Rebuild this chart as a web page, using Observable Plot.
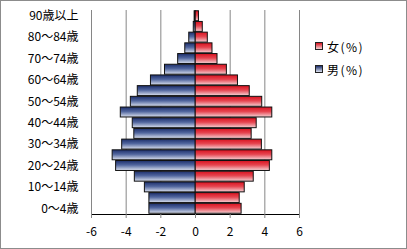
<!DOCTYPE html>
<html><head><meta charset="utf-8">
<script src="https://cdn.jsdelivr.net/npm/d3@7"></script>
<script src="https://cdn.jsdelivr.net/npm/@observablehq/plot@0.6"></script>
<style>
body{margin:0;background:#fff;}
#wrap{position:relative;width:407px;height:249px;font-family:"Noto Sans CJK JP",sans-serif;overflow:hidden;}
#wrap svg{display:block;}
#border{position:absolute;left:0;top:0;width:405px;height:247px;border:1px solid #8c8c8c;pointer-events:none;}
.leg{position:absolute;left:315px;height:14px;display:flex;align-items:center;font-size:12px;color:#000;letter-spacing:1.5px;white-space:nowrap;}
.sw{width:6px;height:6px;border:1px solid #222;margin-right:4px;}
svg [aria-label^="x-axis"] path, svg [aria-label^="x-axis"] line{stroke:#868686;}
</style></head>
<body><div id="wrap"></div>
<script>
const ages = ["0〜4歳","5〜9歳","10〜14歳","15〜19歳","20〜24歳","25〜29歳","30〜34歳","35〜39歳","40〜44歳","45〜49歳","50〜54歳","55〜59歳","60〜64歳","65〜69歳","70〜74歳","75〜79歳","80〜84歳","85〜89歳","90歳以上"];
const female = [2.66,2.55,2.84,3.36,4.29,4.43,3.83,3.24,3.53,4.43,3.85,3.13,2.45,1.81,1.27,0.98,0.71,0.42,0.2];
const male = [-2.66,-2.66,-2.92,-3.5,-4.58,-4.78,-4.23,-3.53,-3.62,-4.31,-3.73,-3.33,-2.57,-1.76,-1.0,-0.59,-0.36,-0.1,-0.05];
const seriesNames = ["女(%)","男(%)"];
const xTicks = [-6,-4,-2,0,2,4,6];
const yLabels = ages.filter((d,i)=>i%2===0);

const femaleRows = ages.map((a,i)=>({age:a,v:female[i]}));
const maleRows = ages.map((a,i)=>({age:a,v:male[i]}));

const plot = Plot.plot({
  width:407, height:249,
  marginLeft:91, marginRight:108, marginTop:10, marginBottom:35,
  style:{fontFamily:'"Noto Sans CJK JP",sans-serif', fontSize:"12px", color:"#000", background:"transparent"},
  x:{domain:[-6,6], ticks:xTicks, tickSize:4, tickPadding:9, line:true, label:null, tickFormat:d=>String(d)},
  y:{domain:ages, reverse:true, padding:0.07, round:false, label:null, tickSize:0, tickPadding:13, ticks:yLabels},
  marks:[
    Plot.ruleX(xTicks,{stroke:"#868686"}),
    Plot.barX(femaleRows,{y:"age",x:"v",fill:"url(#gR)",stroke:"#111",strokeWidth:1}),
    Plot.barX(maleRows,{y:"age",x:"v",fill:"url(#gB)",stroke:"#111",strokeWidth:1})
  ]
});

const svg = d3.select(plot);
const defs = svg.insert("defs",":first-child");
function grad(id, stops){
  const g = defs.append("linearGradient").attr("id",id).attr("x1",0).attr("y1",0).attr("x2",0).attr("y2",1);
  stops.forEach(([o,c])=>g.append("stop").attr("offset",o).attr("stop-color",c));
}
grad("gR",[[0,"#d9121f"],[0.45,"#e64550"],[1,"#f6d3d6"]]);
grad("gB",[[0,"#1c2e6b"],[0.45,"#51669e"],[1,"#dbe1ef"]]);

const wrap = document.getElementById("wrap");
wrap.appendChild(plot);
const b = document.createElement("div"); b.id="border"; wrap.appendChild(b);

const legColors = [["#d9121f","#f6d3d6"],["#1c2e6b","#dbe1ef"]];
const legTops = [39,62];
seriesNames.forEach((n,i)=>{
  const d = document.createElement("div");
  d.className="leg"; d.style.top = legTops[i]+"px";
  const s = document.createElement("div"); s.className="sw";
  s.style.background = `linear-gradient(${legColors[i][0]},${legColors[i][1]})`;
  d.appendChild(s);
  d.appendChild(document.createTextNode(n));
  wrap.appendChild(d);
});
</script></body></html>
